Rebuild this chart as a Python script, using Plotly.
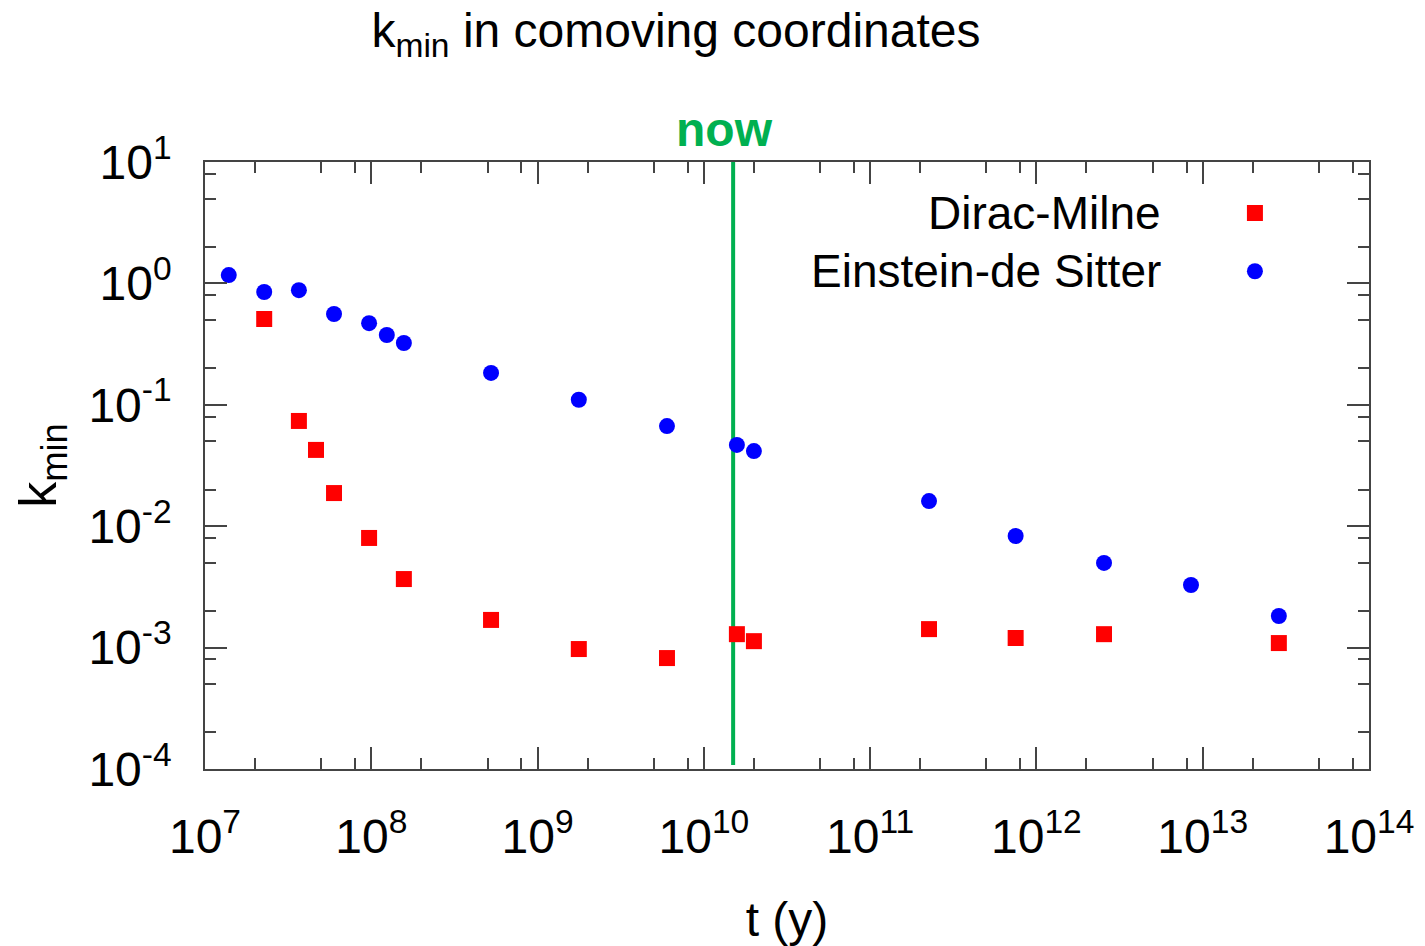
import numpy as np
import plotly.graph_objects as go

# ---- data ----
eds_t = [1.39e7, 2.27e7, 3.67e7, 5.97e7, 9.7e7, 1.24e8, 1.57e8, 5.25e8, 1.77e9, 6.0e9,
         1.58e10, 2.0e10, 2.26e11, 7.5e11, 2.55e12, 8.5e12, 2.87e13]
eds_k = [1.17, 0.85, 0.88, 0.56, 0.47, 0.376, 0.323, 0.183, 0.110, 0.0668,
         0.0467, 0.0416, 0.0161, 0.0083, 0.00498, 0.00328, 0.00182]

dm_t = [2.27e7, 3.67e7, 4.65e7, 5.97e7, 9.7e7, 1.57e8, 5.25e8, 1.77e9, 6.0e9,
        1.58e10, 2.0e10, 2.26e11, 7.5e11, 2.55e12, 2.87e13]
dm_k = [0.509, 0.0736, 0.0425, 0.01875, 0.0080, 0.00367, 0.00169, 0.000973, 0.00082,
        0.00129, 0.00113, 0.00142, 0.0012, 0.00129, 0.00109]

now_t = 1.5e10
now_k = [10.0, 1.08e-4]

x_exps = list(range(7, 15))
y_exps = list(range(-4, 2))
x_ticktext = [f"10<sup>{e}</sup>" for e in x_exps]
y_ticktext = [f"10<sup>{e}</sup>" for e in y_exps]

series_names = ["Dirac-Milne", "Einstein-de Sitter"]

FONT = "Liberation Sans, Arial, sans-serif"
GREEN = "rgb(0,176,80)"
AXC = "#444444"

fig = go.Figure()
fig.add_trace(go.Scatter(x=[now_t, now_t], y=now_k, mode="lines",
                         line=dict(color=GREEN, width=4), showlegend=False,
                         hoverinfo="skip"))
fig.add_trace(go.Scatter(x=dm_t, y=dm_k, mode="markers", name=series_names[0],
                         marker=dict(symbol="square", size=16, color="#ff0000",
                                     line=dict(width=0)), showlegend=False))
fig.add_trace(go.Scatter(x=eds_t, y=eds_k, mode="markers", name=series_names[1],
                         marker=dict(symbol="circle", size=16, color="#0000ff",
                                     line=dict(width=0)), showlegend=False))

x_minor = [m * 10.0 ** e for e in range(7, 14) for m in (2, 5, 8)]
y_minor = [m * 10.0 ** e for e in range(-4, 1) for m in (2, 5, 8)]

common = dict(showline=True, linecolor=AXC, linewidth=1.5, mirror="ticks",
              ticks="inside", ticklen=22, tickwidth=1.5, tickcolor=AXC,
              showgrid=False, zeroline=False, automargin=False,
              tickfont=dict(family=FONT, size=48, color="black"))

fig.update_xaxes(type="log", range=[7, 14], tickmode="array",
                 tickvals=[10.0 ** e for e in x_exps], ticktext=x_ticktext,
                 minor=dict(tickmode="array", tickvals=x_minor, ticks="inside",
                            ticklen=11, tickwidth=1.5, tickcolor=AXC),
                 title=dict(text="t (y)", font=dict(family=FONT, size=48, color="black"),
                            standoff=44),
                 ticklabelstandoff=25, **common)
fig.update_yaxes(type="log", range=[-4, 1], tickmode="array",
                 tickvals=[10.0 ** e for e in y_exps], ticktext=y_ticktext,
                 minor=dict(tickmode="array", tickvals=y_minor, ticks="inside",
                            ticklen=11, tickwidth=1.5, tickcolor=AXC),
                 title=dict(text="k<sub>min</sub>", font=dict(family=FONT, size=52, color="black"),
                            standoff=15),
                 ticklabelstandoff=22, **common)

# legend (markers drawn to the right of text, as in the reference)
leg_text_x = 0.823
leg_mark_x = 0.902
leg_rows = [0.916, 0.820]
fig.add_annotation(xref="paper", yref="paper", x=leg_text_x, y=leg_rows[0],
                   text=series_names[0], showarrow=False, xanchor="right", yanchor="middle",
                   font=dict(family=FONT, size=46, color="black"))
fig.add_annotation(xref="paper", yref="paper", x=leg_text_x, y=leg_rows[1],
                   text=series_names[1], showarrow=False, xanchor="right", yanchor="middle",
                   font=dict(family=FONT, size=46, color="black"))
fig.add_shape(type="rect", xref="paper", yref="paper", xsizemode="pixel", ysizemode="pixel",
              xanchor=leg_mark_x, yanchor=leg_rows[0], x0=-8, x1=8, y0=-8, y1=8,
              fillcolor="#ff0000", line=dict(width=0))
fig.add_shape(type="circle", xref="paper", yref="paper", xsizemode="pixel", ysizemode="pixel",
              xanchor=leg_mark_x, yanchor=leg_rows[1], x0=-8, x1=8, y0=-8, y1=8,
              fillcolor="#0000ff", line=dict(width=0))

# "now" label
fig.add_annotation(xref="x", yref="paper", x=np.log10(now_t), y=1.0, yanchor="bottom",
                   yshift=4, xshift=-9, text="<b>now</b>", showarrow=False,
                   font=dict(family=FONT, size=48, color=GREEN))

# page body adds an 8px margin, so the figure is sized/offset to compensate
fig.update_layout(
    width=1417, height=938,
    margin=dict(l=197, r=56, t=154, b=177, autoexpand=False),
    paper_bgcolor="white", plot_bgcolor="white",
    title=dict(text="k<sub>min</sub> in comoving coordinates", x=0.4714, xanchor="center",
               y=0.9947, yanchor="top", yref="container", pad=dict(t=0, b=0),
               font=dict(family=FONT, size=48, color="black")),
    showlegend=False,
)

fig.write_html("out.html")
